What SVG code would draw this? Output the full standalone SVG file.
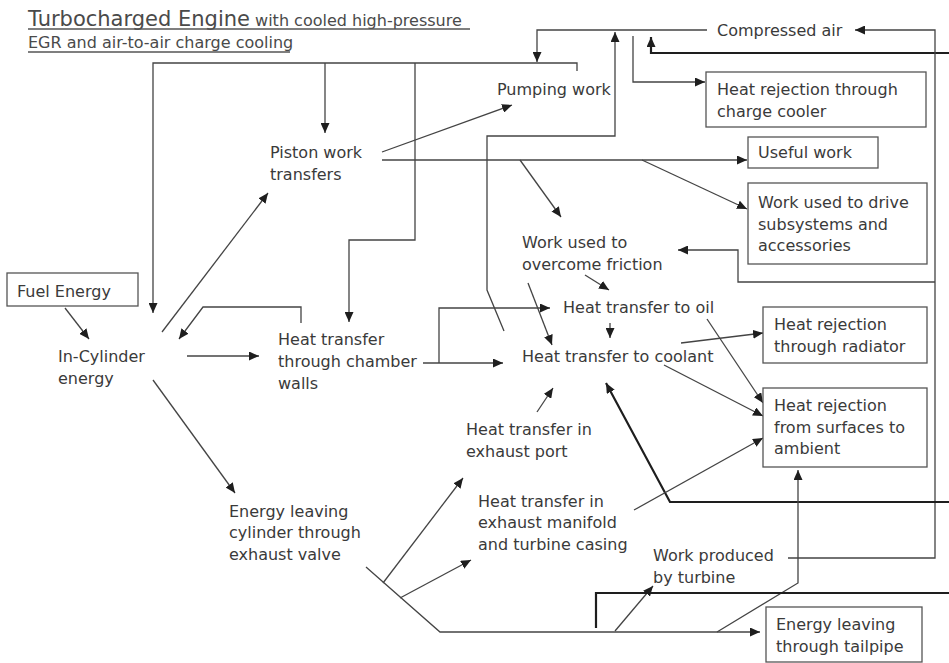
<svg xmlns="http://www.w3.org/2000/svg" width="949" height="663" viewBox="0 0 949 663">
  <style>
    text { font-family: "DejaVu Sans", Verdana, sans-serif; font-size: 16px; fill: #3a3a3a; }
    .title { font-size: 21px; fill: #4a4a4a; }
    .sub { font-size: 16px; fill: #4a4a4a; }
    .box { fill: #ffffff; stroke: #555555; stroke-width: 1.3; }
    .uline { stroke: #555555; stroke-width: 1.3; }
    .conn path { fill: none; stroke: #444444; stroke-width: 1.3; }
    .conn path.thick { stroke: #1e1e1e; stroke-width: 2.2; }
  </style>
  <defs>
    <marker id="arr" markerUnits="userSpaceOnUse" markerWidth="11" markerHeight="9" refX="10" refY="4.5" orient="auto">
      <path d="M0,0 L10,4.5 L0,9 Z" fill="#1e1e1e"/>
    </marker>
  </defs>
  <rect width="949" height="663" fill="#ffffff"/>

  <!-- Title -->
  <g id="title">
    <text x="28" y="26"><tspan class="title">Turbocharged Engine</tspan><tspan class="sub"> with cooled high-pressure</tspan></text>
    <line class="uline" x1="28" y1="29" x2="470" y2="29"/>
    <text class="sub" x="28" y="48">EGR and air-to-air charge cooling</text>
    <line class="uline" x1="28" y1="52" x2="290" y2="52"/>
  </g>

  <!-- Connectors -->
  <g id="connectors" class="conn">
    <path d="M65,308 L89,339" marker-end="url(#arr)"/>
    <path d="M162,332 L268,193" marker-end="url(#arr)"/>
    <path d="M187,356 L259,356" marker-end="url(#arr)"/>
    <path d="M301,323 L301,307 L203,307 L179,339" marker-end="url(#arr)"/>
    <path d="M153,380 L235,493" marker-end="url(#arr)"/>
    <path d="M577,71 L577,63 L153,63 L153,313" marker-end="url(#arr)"/>
    <path d="M325,63 L325,133" marker-end="url(#arr)"/>
    <path d="M415,63 L415,240 L349,240 L349,322" marker-end="url(#arr)"/>
    <path d="M707,30 L537,30 L537,62" marker-end="url(#arr)"/>
    <path d="M504,331 L487,290 L487,136 L615,136 L615,32" marker-end="url(#arr)"/>
    <path d="M633,36 L633,82 L705,82" marker-end="url(#arr)"/>
    <path class="thick" d="M949,53 L651,53 L651,37" marker-end="url(#arr)"/>
    <path d="M788,558 L935,558 L935,30 L855,30" marker-end="url(#arr)"/>
    <path d="M935,282 L738,282 L738,250 L678,250" marker-end="url(#arr)"/>
    <path d="M382,152 L512,105" marker-end="url(#arr)"/>
    <path d="M382,160 L747,160" marker-end="url(#arr)"/>
    <path d="M520,160 L561,217" marker-end="url(#arr)"/>
    <path d="M642,160 L747,209" marker-end="url(#arr)"/>
    <path d="M585,275 L609,290" marker-end="url(#arr)"/>
    <path d="M528,283 L552,345" marker-end="url(#arr)"/>
    <path d="M610,323 L610,338" marker-end="url(#arr)"/>
    <path d="M423,363 L503,363" marker-end="url(#arr)"/>
    <path d="M439,363 L439,308 L550,308" marker-end="url(#arr)"/>
    <path d="M537,412 L553,388" marker-end="url(#arr)"/>
    <path class="thick" d="M949,502 L670,502 L606,383" marker-end="url(#arr)"/>
    <path d="M681,343 L763,333" marker-end="url(#arr)"/>
    <path d="M664,365 L763,416" marker-end="url(#arr)"/>
    <path d="M707,319 L763,403" marker-end="url(#arr)"/>
    <path d="M634,510 L763,438" marker-end="url(#arr)"/>
    <path d="M366,567 L440,632 L760,632" marker-end="url(#arr)"/>
    <path d="M383,583 L463,478" marker-end="url(#arr)"/>
    <path d="M400,598 L471,560" marker-end="url(#arr)"/>
    <path d="M615,631 L653,586" marker-end="url(#arr)"/>
    <path d="M717,632 L798,583 L798,470" marker-end="url(#arr)"/>
    <path class="thick" d="M596,628 L596,593 L949,593"/>
  </g>

  <!-- Nodes -->
  <g id="fuel-energy">
    <rect class="box" x="7" y="273" width="131" height="33"/>
    <text x="17" y="297">Fuel Energy</text>
  </g>
  <g id="in-cylinder">
    <text x="58" y="362">In-Cylinder</text>
    <text x="58" y="384">energy</text>
  </g>
  <g id="piston-work">
    <text x="270" y="158">Piston work</text>
    <text x="270" y="180">transfers</text>
  </g>
  <g id="pumping-work">
    <text x="497" y="95">Pumping work</text>
  </g>
  <g id="chamber-walls">
    <text x="278" y="345">Heat transfer</text>
    <text x="278" y="367">through chamber</text>
    <text x="278" y="389">walls</text>
  </g>
  <g id="exhaust-valve">
    <text x="229" y="517">Energy leaving</text>
    <text x="229" y="538">cylinder through</text>
    <text x="229" y="560">exhaust valve</text>
  </g>
  <g id="compressed-air">
    <text x="717" y="36">Compressed air</text>
  </g>
  <g id="charge-cooler">
    <rect class="box" x="706" y="72" width="220" height="55"/>
    <text x="717" y="95">Heat rejection through</text>
    <text x="717" y="117">charge cooler</text>
  </g>
  <g id="useful-work">
    <rect class="box" x="748" y="137" width="130" height="31"/>
    <text x="758" y="158">Useful work</text>
  </g>
  <g id="subsystems">
    <rect class="box" x="748" y="183" width="179" height="81"/>
    <text x="758" y="208">Work used to drive</text>
    <text x="758" y="230">subsystems and</text>
    <text x="758" y="251">accessories</text>
  </g>
  <g id="friction">
    <text x="522" y="248">Work used to</text>
    <text x="522" y="270">overcome friction</text>
  </g>
  <g id="to-oil">
    <text x="563" y="313">Heat transfer to oil</text>
  </g>
  <g id="to-coolant">
    <text x="522" y="362">Heat transfer to coolant</text>
  </g>
  <g id="radiator">
    <rect class="box" x="763" y="307" width="164" height="56"/>
    <text x="774" y="330">Heat rejection</text>
    <text x="774" y="352">through radiator</text>
  </g>
  <g id="surfaces">
    <rect class="box" x="763" y="388" width="164" height="79"/>
    <text x="774" y="411">Heat rejection</text>
    <text x="774" y="433">from surfaces to</text>
    <text x="774" y="454">ambient</text>
  </g>
  <g id="exhaust-port">
    <text x="466" y="435">Heat transfer in</text>
    <text x="466" y="457">exhaust port</text>
  </g>
  <g id="exhaust-manifold">
    <text x="478" y="507">Heat transfer in</text>
    <text x="478" y="528">exhaust manifold</text>
    <text x="478" y="550">and turbine casing</text>
  </g>
  <g id="turbine-work">
    <text x="653" y="561">Work produced</text>
    <text x="653" y="583">by turbine</text>
  </g>
  <g id="tailpipe">
    <rect class="box" x="766" y="607" width="156" height="55"/>
    <text x="776" y="630">Energy leaving</text>
    <text x="776" y="652">through tailpipe</text>
  </g>
</svg>
